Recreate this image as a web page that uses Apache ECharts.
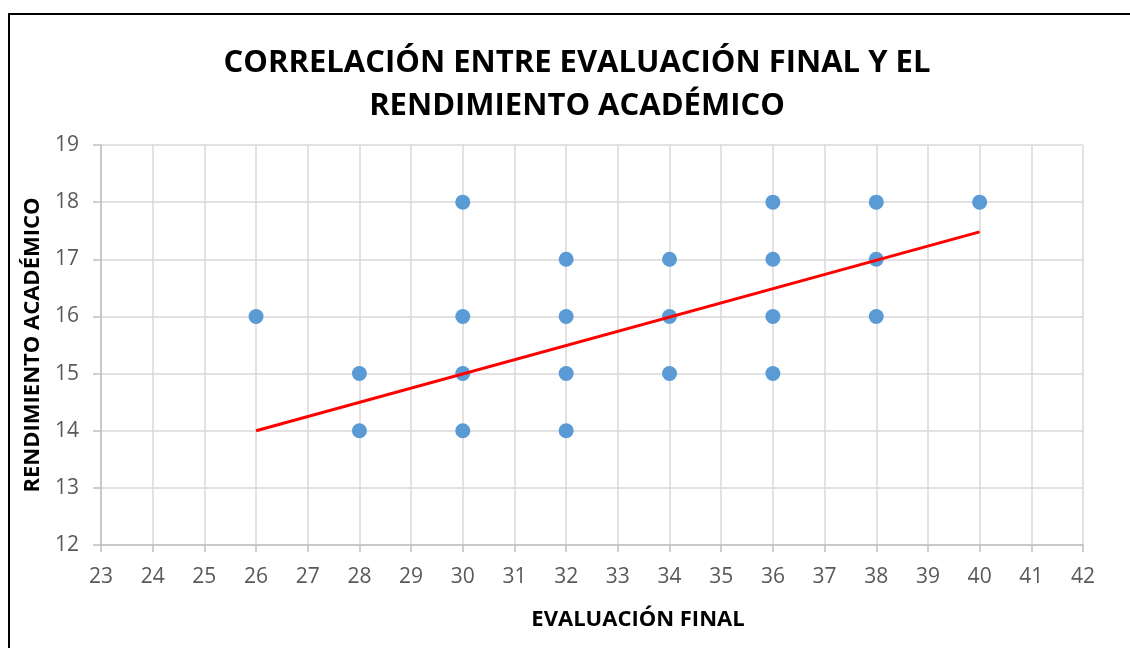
<!DOCTYPE html>
<html>
<head>
<meta charset="utf-8">
<script src="https://cdn.jsdelivr.net/npm/echarts@6/dist/echarts.min.js"></script>
<style>
  html, body { margin: 0; padding: 0; background: #fff; }
  #frame { position: absolute; left: 8px; top: 13px; width: 1130px; height: 648px;
           border-left: 2px solid #000; border-top: 2px solid #000; }
  #chartmain { position: absolute; left: 0; top: 0; width: 1130px; height: 648px; }
</style>
</head>
<body>
<div id="chartmain"></div>
<div id="frame"></div>
<script>
// evaluación final (x) vs rendimiento académico (y)
var evalFinal   = [26, 28, 28, 30, 30, 30, 30, 32, 32, 32, 32, 34, 34, 34, 36, 36, 36, 36, 38, 38, 38, 40];
var rendimiento = [16, 15, 14, 18, 16, 15, 14, 17, 16, 15, 14, 17, 16, 15, 18, 17, 16, 15, 18, 17, 16, 18];
// linea de tendencia (extremos)
var trendX = [26, 40];
var trendY = [14.0, 17.48];

var points = evalFinal.map(function (x, i) { return [x, rendimiento[i]]; });
var trend = trendX.map(function (x, i) { return [x, trendY[i]]; });

var FONT = '"Open Sans", sans-serif';
var chart = echarts.init(document.getElementById('chartmain'), null, { renderer: 'canvas' });
chart.setOption({
    animation: false,
    title: {
        text: 'CORRELACIÓN ENTRE EVALUACIÓN FINAL Y EL\nRENDIMIENTO ACADÉMICO',
        left: 572, top: 37, textAlign: 'center',
        textStyle: { fontFamily: FONT, fontWeight: 'bold', fontSize: 31, lineHeight: 43, color: '#000' }
    },
    grid: { left: 101, top: 145, right: 47, bottom: 103 },
    xAxis: {
        type: 'value', min: 23, max: 42, interval: 1,
        name: 'EVALUACIÓN FINAL', nameLocation: 'middle', nameGap: 64,
        nameTextStyle: { fontFamily: FONT, fontWeight: 'bold', fontSize: 22, color: '#000', padding: [0, 0, 0, 92] },
        axisLine: { show: true, lineStyle: { color: '#bfbfbf', width: 1.5 } },
        axisTick: { show: true, length: 7, lineStyle: { color: '#bfbfbf', width: 1.5 } },
        axisLabel: { fontFamily: FONT, fontSize: 21, color: '#595959', margin: 22 },
        splitLine: { show: true, lineStyle: { color: '#d9d9d9', width: 1.5 } }
    },
    yAxis: {
        type: 'value', min: 12, max: 19, interval: 1,
        name: 'RENDIMIENTO ACADÉMICO', nameLocation: 'middle', nameGap: 55, nameRotate: 90,
        nameTextStyle: { fontFamily: FONT, fontWeight: 'bold', fontSize: 22, color: '#000' },
        axisLine: { show: true, lineStyle: { color: '#bfbfbf', width: 1.5 } },
        axisTick: { show: true, length: 8, lineStyle: { color: '#bfbfbf', width: 1.5 } },
        axisLabel: { fontFamily: FONT, fontSize: 21, color: '#595959', margin: 22 },
        splitLine: { show: true, lineStyle: { color: '#d9d9d9', width: 1.5 } }
    },
    series: [{
        type: 'scatter',
        data: points,
        symbolSize: 15,
        itemStyle: { color: '#5b9bd5', opacity: 1 },
        z: 3
    }, {
        type: 'line',
        data: trend,
        symbol: 'none',
        lineStyle: { color: '#ff0000', width: 3 },
        z: 4
    }]
});
</script>
</body>
</html>
